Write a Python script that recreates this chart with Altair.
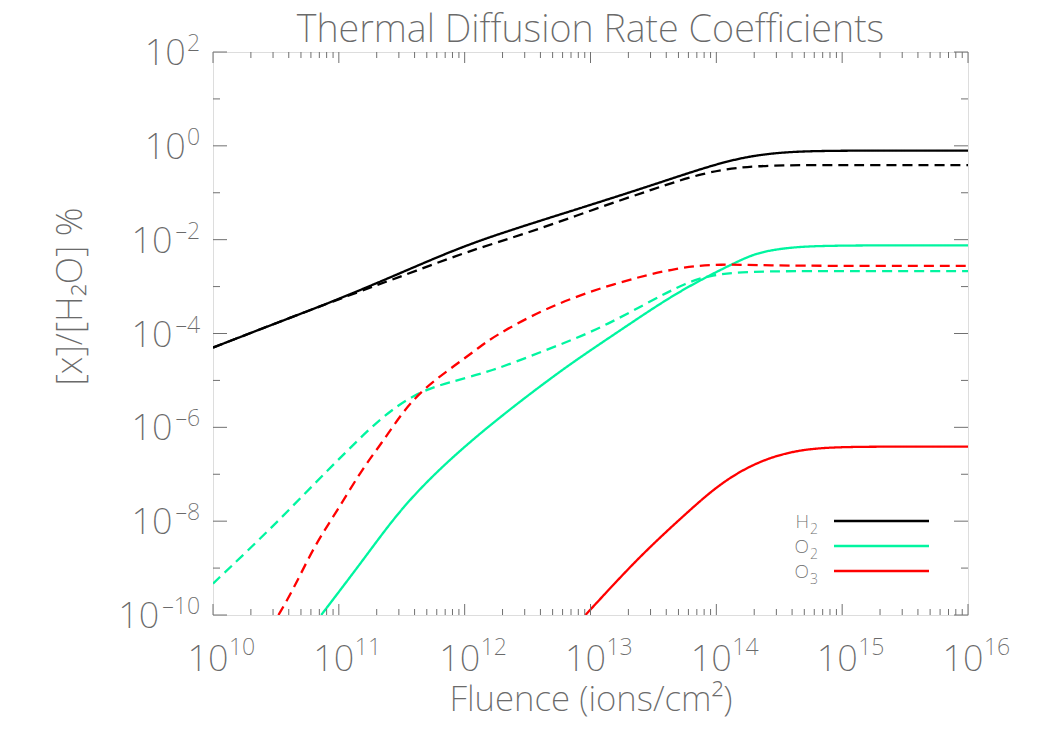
import altair as alt
import pandas as pd

# ---- data (log10 fluence, log10 ratio) ----
h2_solid_lx = [10.0, 10.5, 11.0, 11.5, 12.0, 12.5, 13.0, 13.5, 14.0, 14.3, 14.6, 15.0, 16.0]
h2_solid_ly = [-4.30, -3.78, -3.27, -2.70, -2.12, -1.68, -1.26, -0.83, -0.38, -0.20, -0.12, -0.10, -0.10]

h2_dash_lx = [10.0, 10.5, 11.0, 11.3, 11.6, 12.0, 12.5, 13.0, 13.5, 13.9, 14.2, 14.5, 15.0, 16.0]
h2_dash_ly = [-4.30, -3.78, -3.27, -2.97, -2.68, -2.27, -1.86, -1.38, -0.92, -0.57, -0.45, -0.41, -0.41, -0.41]

o2_solid_lx = [10.86, 11.21, 11.50, 11.87, 12.27, 12.66, 12.92, 13.31, 13.71, 14.19, 14.35, 14.61, 15.0, 16.0]
o2_solid_ly = [-10.0, -8.77, -7.70, -6.70, -5.80, -5.00, -4.50, -3.80, -3.08, -2.43, -2.26, -2.15, -2.12, -2.12]

o2_dash_lx = [10.0, 10.28, 10.55, 10.81, 11.07, 11.34, 11.61, 11.87, 12.20, 12.65, 13.05, 13.45, 13.77, 13.97, 14.19, 14.5, 15.0, 16.0]
o2_dash_ly = [-9.33, -8.62, -7.91, -7.19, -6.49, -5.78, -5.27, -5.04, -4.82, -4.35, -3.93, -3.35, -2.90, -2.75, -2.69, -2.67, -2.67, -2.67]

o3_solid_lx = [12.96, 13.20, 13.45, 13.79, 14.03, 14.29, 14.56, 14.83, 15.2, 16.0]
o3_solid_ly = [-10.0, -9.30, -8.60, -7.76, -7.20, -6.78, -6.53, -6.43, -6.41, -6.41]

o3_dash_lx = [10.52, 10.63, 10.81, 10.99, 11.18, 11.34, 11.50, 11.66, 11.87, 12.12, 12.22, 12.65, 13.18, 13.71, 14.03, 14.4, 15.0, 16.0]
o3_dash_ly = [-10.0, -9.50, -8.50, -7.77, -6.91, -6.34, -5.70, -5.21, -4.78, -4.29, -4.08, -3.44, -2.93, -2.58, -2.52, -2.55, -2.56, -2.56]

species = ["H₂", "O₂", "O₃"]
legend_base = ["H", "O", "O"]
legend_sub = ["2", "2", "3"]
colors = ["#000000", "#00F5A0", "#FF0000"]

title_text = ["Thermal Diffusion Rate Coefficients"]

x_decades = [10, 11, 12, 13, 14, 15, 16]
y_decades = list(range(-10, 3))
y_label_decades = [d for d in y_decades if d % 2 == 0]

# ---- build tables ----
curves = [
    ("H₂", "solid", h2_solid_lx, h2_solid_ly),
    ("H₂", "dashed", h2_dash_lx, h2_dash_ly),
    ("O₂", "solid", o2_solid_lx, o2_solid_ly),
    ("O₂", "dashed", o2_dash_lx, o2_dash_ly),
    ("O₃", "solid", o3_solid_lx, o3_solid_ly),
    ("O₃", "dashed", o3_dash_lx, o3_dash_ly),
]
rows = []
for sp, style, lx, ly in curves:
    for i, (a, b) in enumerate(zip(lx, ly)):
        rows.append({"species": sp, "style": style, "curve": sp + style,
                     "order": i, "fluence": 10.0 ** a, "ratio": 10.0 ** b})
df = pd.DataFrame(rows)


def exp_text(d):
    return str(d).replace("-", "–")


x_major = pd.DataFrame({"v": [10.0 ** d for d in x_decades],
                        "exp": [exp_text(d) for d in x_decades]})
x_minor = pd.DataFrame({"v": [m * 10.0 ** d for d in x_decades[:-1] for m in range(2, 10)]})
y_major = pd.DataFrame({"v": [10.0 ** d for d in y_label_decades],
                        "exp": [exp_text(d) for d in y_label_decades]})
y_minor = pd.DataFrame({"v": [10.0 ** d for d in y_decades if d % 2 != 0]})
leg_df = pd.DataFrame({"species": species, "base": legend_base, "sub": legend_sub})
title_df = pd.DataFrame({"t": title_text})

W, H = 755, 563
GRAY = "#6a6a6a"
AX = "#707070"
FONT = "Noto Sans"
FW = 200
BASE_FS = 36
EXP_FS = 23

xscale = alt.Scale(type="log", domain=[1e10, 1e16], nice=False)
yscale = alt.Scale(type="log", domain=[1e-10, 1e2], nice=False)
cscale = alt.Scale(domain=species, range=colors)
dscale = alt.Scale(domain=["solid", "dashed"], range=[[1, 0], [10, 6]])

lines = alt.Chart(df).mark_line(strokeWidth=2.3, clip=True, interpolate="basis").encode(
    x=alt.X("fluence:Q", scale=xscale,
            axis=alt.Axis(labels=False, ticks=False, grid=False, domain=False,
                          title="Fluence (ions/cm²)", titleFont=FONT, titleFontSize=35,
                          titleFontWeight=FW, titleColor=GRAY, titleY=95,
                          titleBaseline="alphabetic")),
    y=alt.Y("ratio:Q", scale=yscale,
            axis=alt.Axis(labels=False, ticks=False, grid=False, domain=False,
                          title="[x]/[H₂O] %", titleFont=FONT, titleFontSize=36,
                          titleFontWeight=FW, titleColor=GRAY, titleX=-124, titleY=244,
                          titleAngle=270)),
    color=alt.Color("species:N", scale=cscale, legend=None),
    strokeDash=alt.StrokeDash("style:N", scale=dscale, legend=None),
    detail="curve:N",
    order="order:Q",
)


def xticks(data, length):
    base = alt.Chart(data)
    bot = base.mark_rule(color=AX, strokeWidth=1).encode(
        x=alt.X("v:Q", scale=xscale), y=alt.value(H), y2=alt.value(H - length))
    top = base.mark_rule(color=AX, strokeWidth=1).encode(
        x=alt.X("v:Q", scale=xscale), y=alt.value(0), y2=alt.value(length))
    return [bot, top]


def yticks(data, length):
    base = alt.Chart(data)
    lft = base.mark_rule(color=AX, strokeWidth=1).encode(
        y=alt.Y("v:Q", scale=yscale), x=alt.value(0), x2=alt.value(length))
    rgt = base.mark_rule(color=AX, strokeWidth=1).encode(
        y=alt.Y("v:Q", scale=yscale), x=alt.value(W), x2=alt.value(W - length))
    return [lft, rgt]


tick_layers = xticks(x_major, 11) + xticks(x_minor, 6) + yticks(y_major, 14) + yticks(y_minor, 7)

# x tick labels: "10" near the tick, exponent raised to its right
xlab_base = alt.Chart(x_major).mark_text(
    align="center", baseline="alphabetic", font=FONT, fontSize=BASE_FS, fontWeight=FW, color=GRAY, dx=-5
).encode(x=alt.X("v:Q", scale=xscale), y=alt.value(H + 56), text=alt.value("10"))
xlab_exp = alt.Chart(x_major).mark_text(
    align="left", baseline="alphabetic", font=FONT, fontSize=EXP_FS, fontWeight=FW, color=GRAY, dx=16
).encode(x=alt.X("v:Q", scale=xscale), y=alt.value(H + 40), text="exp:N")

# chart title as a text mark centred over the plot
title = alt.Chart(title_df).mark_text(
    align="center", baseline="alphabetic", font=FONT, fontSize=38, fontWeight=FW, color=GRAY
).encode(x=alt.value(W / 2), y=alt.value(-10), text="t:N")

main = alt.layer(lines, *tick_layers, xlab_base, xlab_exp, title)

# y tick labels, right aligned next to the axis
ylab_exp = alt.Chart(y_major).mark_text(
    align="right", baseline="alphabetic", font=FONT, fontSize=EXP_FS, fontWeight=FW, color=GRAY, dy=-1
).encode(y=alt.Y("v:Q", scale=yscale, axis=None), x=alt.value(-13), text="exp:N")
ylab_base = alt.Chart(y_major).transform_calculate(
    px="-13 - 1 - length(datum.exp) * 13.2"
).mark_text(
    align="right", baseline="alphabetic", font=FONT, fontSize=BASE_FS, fontWeight=FW, color=GRAY, dy=13
).encode(y=alt.Y("v:Q", scale=yscale, axis=None),
         x=alt.X("px:Q", scale=None, axis=None), text=alt.value("10"))
ylabels = alt.layer(ylab_exp, ylab_base)

# legend
ly_scale = alt.Scale(type="point", domain=species, range=[469, 519], padding=0)
leg_lines = alt.Chart(leg_df).mark_rule(strokeWidth=2.3).encode(
    y=alt.Y("species:N", scale=ly_scale, axis=None),
    x=alt.value(621), x2=alt.value(716),
    color=alt.Color("species:N", scale=cscale, legend=None),
)
leg_base = alt.Chart(leg_df).mark_text(
    align="right", baseline="alphabetic", font=FONT, fontSize=19, fontWeight=FW, color=GRAY, dy=7
).encode(y=alt.Y("species:N", scale=ly_scale, axis=None), x=alt.value(596), text="base:N")
leg_sub = alt.Chart(leg_df).mark_text(
    align="right", baseline="alphabetic", font=FONT, fontSize=14, fontWeight=FW, color=GRAY, dy=13
).encode(y=alt.Y("species:N", scale=ly_scale, axis=None), x=alt.value(605), text="sub:N")
legend = alt.layer(leg_lines, leg_base, leg_sub)

chart = alt.layer(main, ylabels, legend).resolve_scale(x="independent", y="independent").properties(
    width=W, height=H,
    autosize=alt.AutoSizeParams(type="none"),
    padding={"left": 213, "top": 52, "right": 82, "bottom": 135},
).configure_view(stroke=AX, strokeWidth=1.2).configure(background="white")

chart.save("out.html", embed_options={"renderer": "svg", "actions": False})
